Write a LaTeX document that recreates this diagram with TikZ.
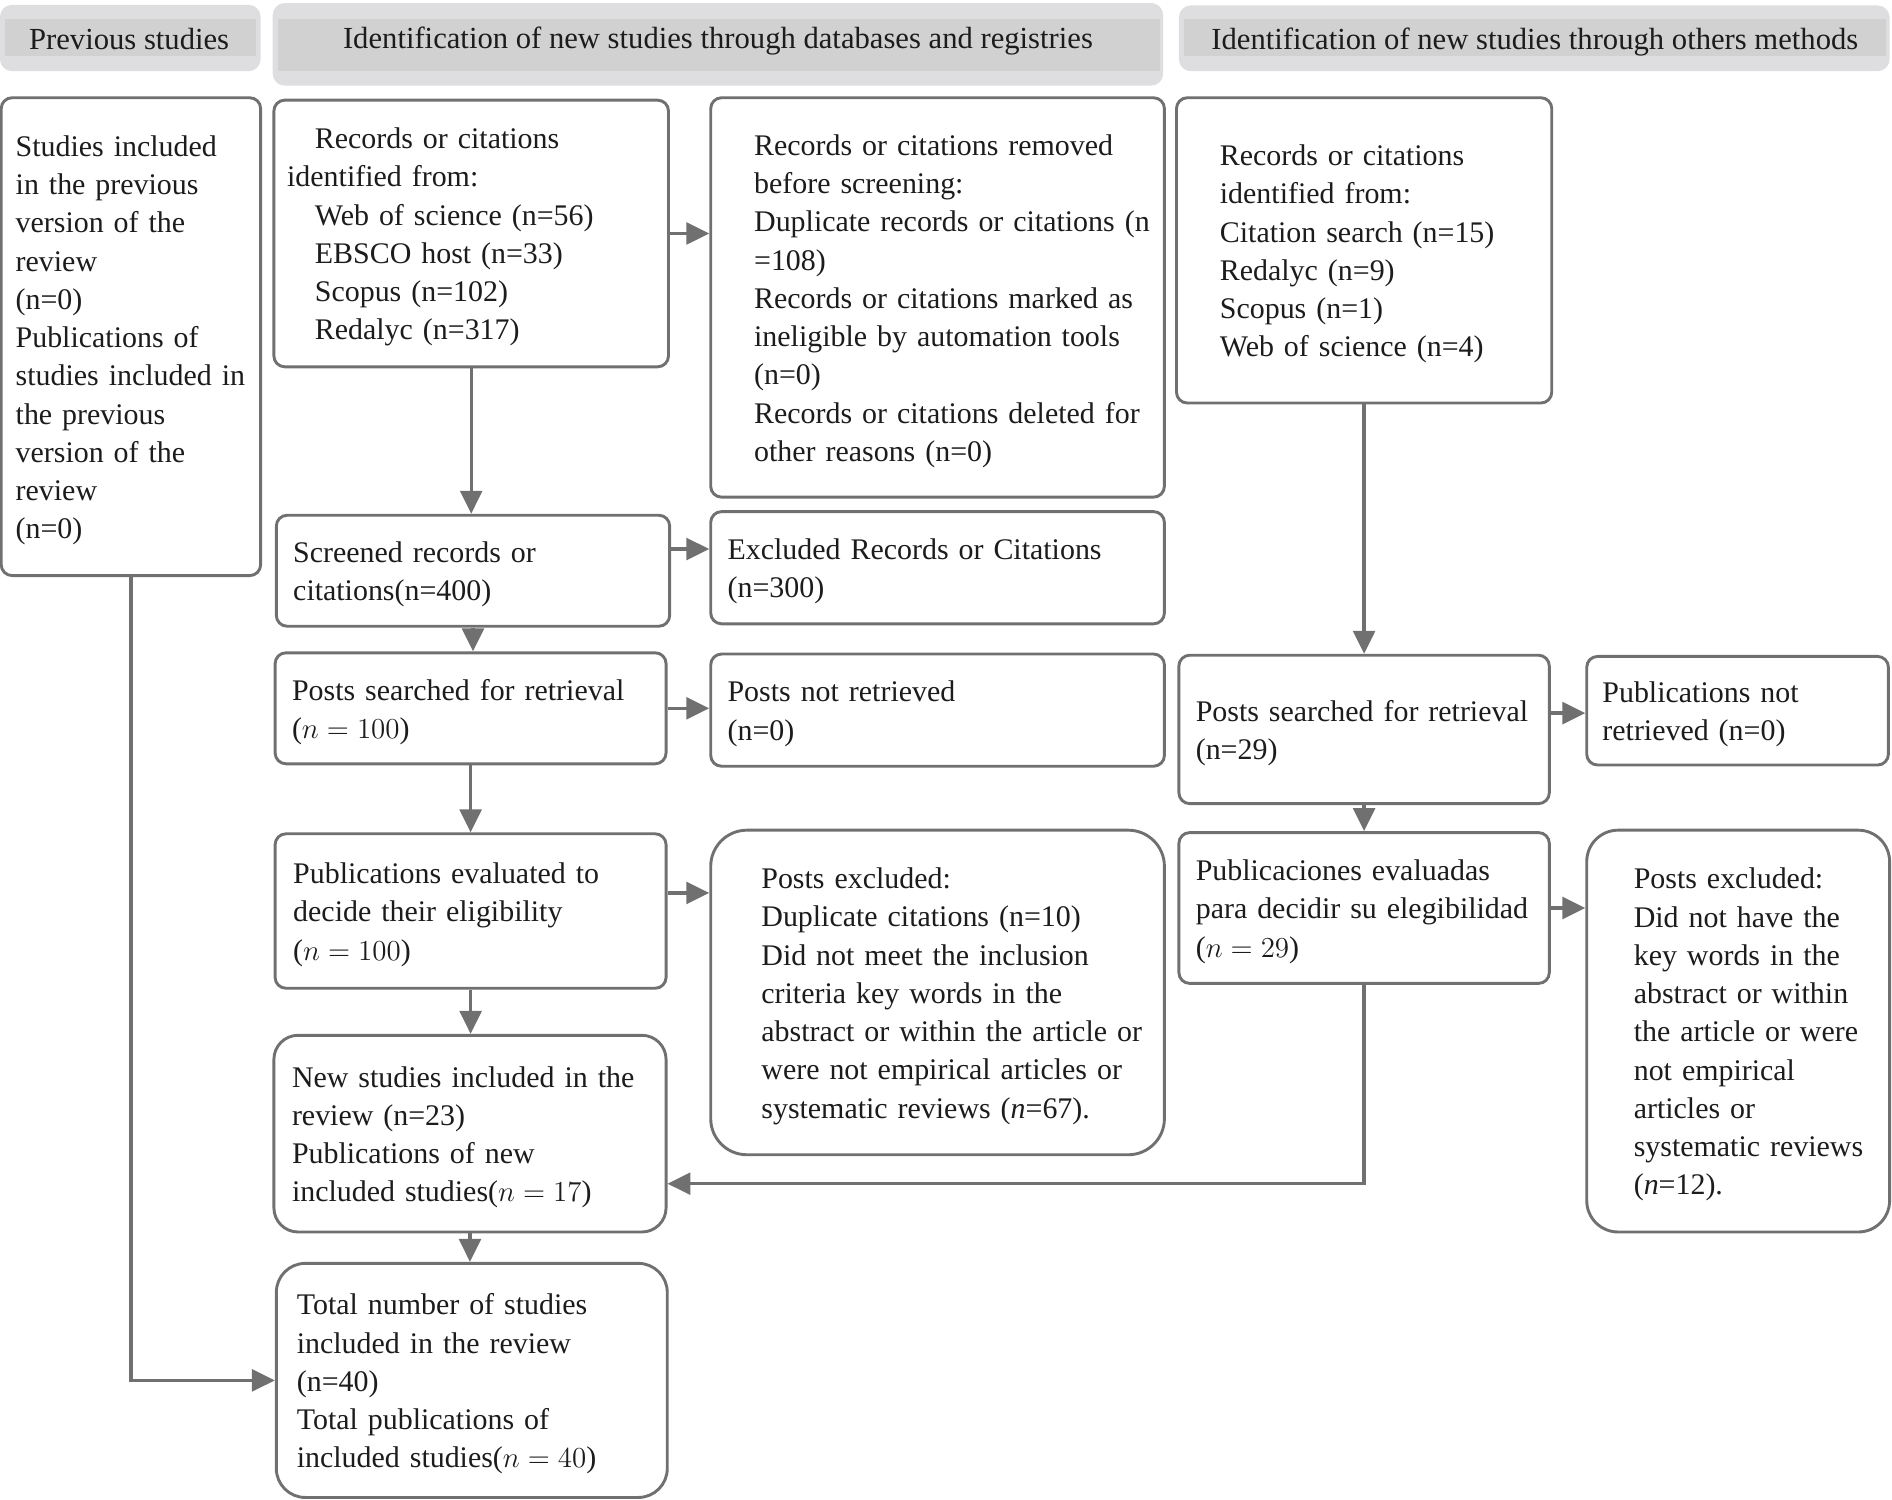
\documentclass[tikz,border=0pt]{standalone}
\usepackage{fontspec}
\setmainfont{Liberation Serif}
\usetikzlibrary{arrows.meta}
\definecolor{linegray}{RGB}{112,112,112}
\definecolor{hdrout}{RGB}{222,222,224}
\definecolor{hdrin}{RGB}{209,209,209}
\definecolor{ink}{RGB}{28,28,28}
\newcommand{\dbindent}{\hspace*{11.5pt}}

\begin{document}
\begin{tikzpicture}
  [x=0.5pt,y=-0.5pt,
   every node/.style={font=\fontsize{12.4}{15.85}\selectfont, text=ink},
   hdrtext/.style={anchor=base, font=\fontsize{12.7}{15.85}\selectfont},
   box/.style={draw=linegray, line width=1.2pt, rounded corners=4.5pt, align=left, inner xsep=0pt, inner ysep=0pt},
   indent/.style={execute at begin node={\leftskip=#1\relax\rule{0pt}{12.2pt}},
                  execute at end node={\rule[-3.2pt]{0pt}{0pt}}},
   arr/.style={draw=linegray, line width=1.4pt, -{Triangle[length=9.5pt,width=9pt]}}]
  \useasboundingbox (0,0) rectangle (1568,1243);
  \fill[white] (0,0) rectangle (1568,1243);

  % column headers
  \fill[hdrout, rounded corners=5pt] (0,4) rectangle (216,59);
  \fill[hdrin] (4,16) rectangle (212,46);
  \node[hdrtext] (hprev) at (107,41) {Previous studies};
  \fill[hdrout, rounded corners=5pt] (226,2.5) rectangle (964,71);
  \fill[hdrin] (230,16) rectangle (961,59);
  \node[hdrtext] (hdb) at (595,40) {Identification of new studies through databases and registries};
  \fill[hdrout, rounded corners=5pt] (977,4.5) rectangle (1566,59);
  \fill[hdrin] (981,16) rectangle (1563,46);
  \node[hdrtext] (hoth) at (1272,41) {Identification of new studies through others methods};

  % previous studies
  \node[box, text width=107.5pt, minimum height=198pt, indent=6pt] (prev) at (108.5,279)
    {Studies included\\in the previous\\version of the\\review\\(n=0)\\Publications of\\studies included in\\the previous\\version of the\\review\\(n=0)};

  % databases and registries
  \node[box, text width=163.5pt, minimum height=110.5pt, indent=5.5pt] (dbid) at (390.5,193.5)
    {\dbindent Records or citations\\identified from:\\\dbindent Web of science (n=56)\\\dbindent EBSCO host (n=33)\\\dbindent Scopus (n=102)\\\dbindent Redalyc (n=317)};
  \node[box, text width=188pt, minimum height=165.5pt, indent=18pt] (removed) at (777,246.5)
    {Records or citations removed\\before screening:\\Duplicate records or citations (n\\=108)\\Records or citations marked as\\ineligible by automation tools\\(n=0)\\Records or citations deleted for\\other reasons (n=0)};
  \node[box, text width=163pt, minimum height=46pt, indent=7pt] (screened) at (392,473)
    {Screened records or\\citations(n=400)};
  \node[box, text width=188pt, minimum height=46.5pt, indent=7pt] (excluded) at (777,470.5)
    {Excluded Records or Citations\\(n=300)};
  \node[box, text width=162pt, minimum height=46pt, indent=7pt] (dbsought) at (390,587)
    {Posts searched for retrieval\\($n = 100$)};
  \node[box, text width=188pt, minimum height=46.5pt, indent=7pt] (notretr) at (777,588.5)
    {Posts not retrieved\\(n=0)};
  \node[box, text width=162pt, minimum height=64pt, indent=7.5pt] (dbelig) at (390,755)
    {Publications evaluated to\\decide their eligibility\\($n = 100$)};
  \node[box, rounded corners=15pt, text width=188pt, minimum height=134.5pt, indent=21pt] (dbexcl) at (777,822.5)
    {Posts excluded:\\Duplicate citations (n=10)\\Did not meet the inclusion\\criteria key words in the\\abstract or within the article or\\were not empirical articles or\\systematic reviews (\textit{n}=67).};
  \node[box, rounded corners=10pt, text width=162.5pt, minimum height=81.5pt, indent=7.5pt] (newincl) at (389.5,939.5)
    {New studies included in the\\review (n=23)\\Publications of new\\included studies($n = 17$)};
  \node[box, rounded corners=12pt, text width=162pt, minimum height=97pt, indent=8.5pt] (total) at (391,1144)
    {Total number of studies\\included in the review\\(n=40)\\Total publications of\\included studies($n = 40$)};

  % other methods
  \node[box, text width=155.5pt, minimum height=126.5pt, indent=18pt] (othid) at (1130.5,207.5)
    {Records or citations\\identified from:\\Citation search (n=15)\\Redalyc (n=9)\\Scopus (n=1)\\Web of science (n=4)};
  \node[box, text width=153.5pt, minimum height=61.5pt, indent=7pt] (othsought) at (1130.5,604.5)
    {Posts searched for retrieval\\(n=29)};
  \node[box, text width=125pt, minimum height=45pt, indent=6.5pt] (othnotretr) at (1440,589)
    {Publications not\\retrieved (n=0)};
  \node[box, text width=153.5pt, minimum height=62.5pt, indent=7pt] (othelig) at (1130.5,752.5)
    {Publicaciones evaluadas\\para decidir su elegibilidad\\($n = 29$)};
  \node[box, rounded corners=13pt, text width=125.5pt, minimum height=166.5pt, indent=19.5pt] (othexcl) at (1440.5,854.5)
    {Posts excluded:\\Did not have the\\key words in the\\abstract or within\\the article or were\\not empirical\\articles or\\systematic reviews\\(\textit{n}=12).};

  % connectors
  \foreach \from/\to in {dbid/screened,screened/dbsought,dbsought/dbelig,dbelig/newincl,newincl/total,othid/othsought,othsought/othelig}
    \draw[arr] (\from) -- (\from |- \to.north);
  \foreach \from/\to/\dy in {dbid/removed/0pt,screened/excluded/9pt,dbsought/notretr/0pt,dbelig/dbexcl/7.5pt,othsought/othnotretr/6.75pt,othelig/othexcl/0pt}
    \draw[arr] ([yshift=\dy]\from.east) -- ([yshift=\dy]\from.east -| \to.west);
  \draw[arr] (prev.south) |- (total.west);
  \draw[arr] (othelig.south) |- ([yshift=-20.75pt]newincl.east);
\end{tikzpicture}
\end{document}
